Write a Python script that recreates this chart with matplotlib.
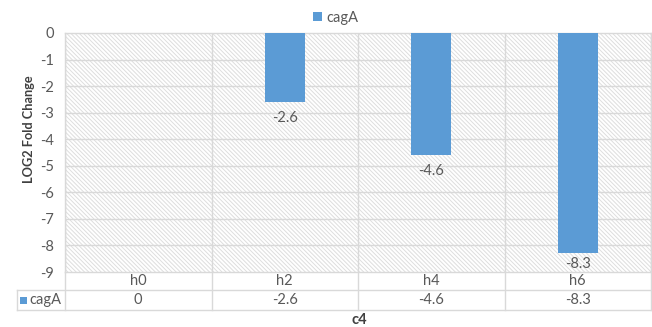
import matplotlib.pyplot as plt
from matplotlib.patches import Rectangle, Patch

categories = ['h0', 'h2', 'h4', 'h6']
cagA = [0, -2.6, -4.6, -8.3]
series_name = 'cagA'

blue = '#5B9BD5'
grid = '#D9D9D9'
txt = '#595959'
plt.rcParams['font.family'] = ['Lato', 'DejaVu Sans']
plt.rcParams['hatch.color'] = '#DEDEDE'
plt.rcParams['hatch.linewidth'] = 0.7

W, H = 652, 327
fig = plt.figure(figsize=(W / 100, H / 100), dpi=100)
left, right, top, bottom = 65, 651, 33, 272
ax = fig.add_axes([left / W, 1 - bottom / H, (right - left) / W, (bottom - top) / H])

# hatched plot background
ax.add_patch(Rectangle((0, 0), 1, 1, transform=ax.transAxes, facecolor='white',
                       hatch='\\' * 8, linewidth=0, zorder=0))

ymin, ymax = -9, 0
x = list(range(len(categories)))
ax.bar(x, cagA, width=0.27, color=blue, zorder=3)
# value labels below each bar end, kept inside the plot area
for xi, v in zip(x, cagA):
    if v != 0:
        ytop = max(v - 0.33, ymin + 0.55)
        ax.text(xi, ytop, f'{v:g}', ha='center', va='top', fontsize=10.5,
                color=txt, zorder=4)

ax.set_xlim(-0.5, len(categories) - 0.5)
ax.set_ylim(ymin, ymax)
ax.set_yticks(range(ymin, ymax + 1))
ax.set_yticklabels([str(t) for t in range(ymin, ymax + 1)], fontsize=10.5, color=txt)
ax.tick_params(axis='y', length=0, pad=8)
ax.set_xticks([])
for yv in range(ymin + 1, ymax):
    ax.axhline(yv, color=grid, lw=1, zorder=1)
for xv in range(len(categories) + 1):
    ax.axvline(xv - 0.5, color=grid, lw=1, zorder=1)
for s in ax.spines.values():
    s.set_color(grid)
    s.set_linewidth(1)

# data table under the plot
ph = bottom - top
r1 = -18 / ph
r2 = -38 / ph
leg_x = (17 - left) / (right - left) * len(categories) - 0.5
tr = ax.get_xaxis_transform()
kw = dict(color=grid, lw=1, transform=tr, clip_on=False)
ax.plot([leg_x, 3.5], [r1, r1], **kw)
ax.plot([leg_x, 3.5], [r2, r2], **kw)
for xv in range(len(categories) + 1):
    ax.plot([xv - 0.5, xv - 0.5], [0, r2], **kw)
ax.plot([leg_x, leg_x], [r1, r2], **kw)
for xi, c, v in zip(x, categories, cagA):
    ax.text(xi, r1 / 2, c, transform=tr, ha='center', va='center', fontsize=10.5, color=txt)
    ax.text(xi, (r1 + r2) / 2, f'{v:g}', transform=tr, ha='center', va='center',
            fontsize=10.5, color=txt)
fig.patches.append(Rectangle((20 / W, 1 - 304 / H), 7 / W, 7 / H, transform=fig.transFigure,
                             facecolor=blue, edgecolor='none'))
fig.text(29 / W, 1 - 300 / H, series_name, ha='left', va='center', fontsize=10.5, color=txt)

fig.text(29 / W, 1 - 129 / H, 'LOG2 Fold Change', rotation=90, ha='center', va='center',
         fontsize=9.2, fontweight='bold', color='#404040')
fig.text(359 / W, 1 - 320 / H, 'c4', ha='center', va='center', fontsize=10.5,
         fontweight='bold', color='#404040')

fig.legend(handles=[Patch(facecolor=blue, label=series_name)], loc='center',
           bbox_to_anchor=(336 / W, 1 - 18 / H), frameon=False, fontsize=10.5,
           handlelength=0.6, handleheight=0.6, handletextpad=0.3, labelcolor=txt)

fig.savefig('out.png', dpi=100)
